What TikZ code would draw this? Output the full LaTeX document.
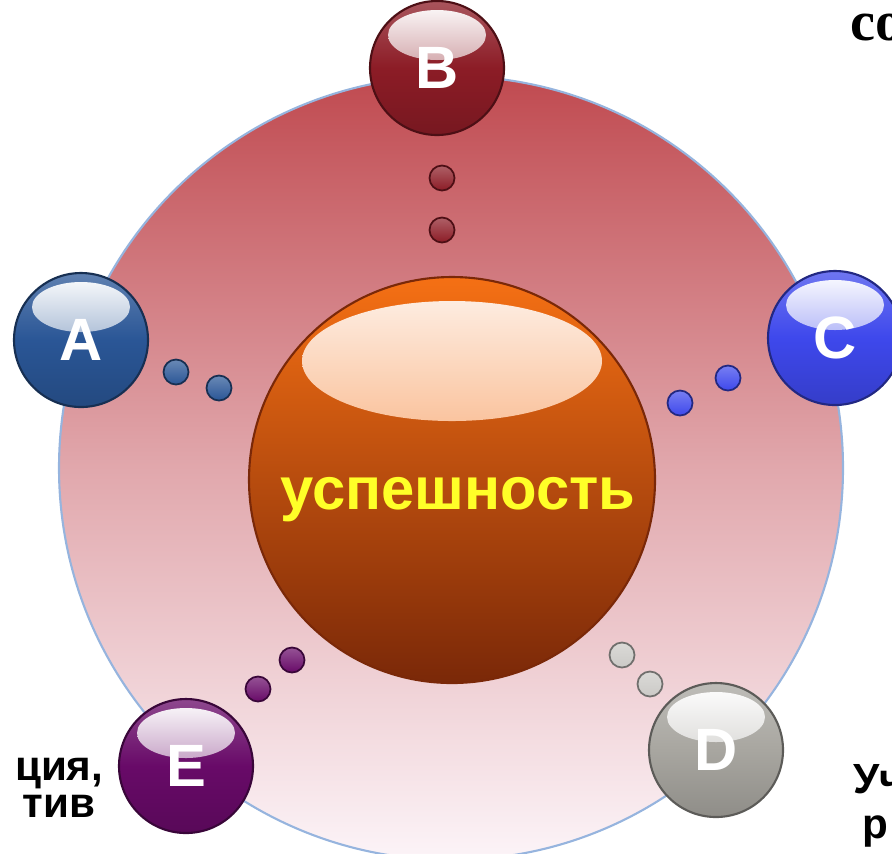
\documentclass[tikz,border=0pt]{standalone}
\usepackage{fontspec}
\setmainfont{Liberation Sans}
\newfontfamily\cyrserif{Liberation Serif}
\definecolor{ringtop}{RGB}{192,74,80}
\definecolor{ringbot}{RGB}{252,244,248}
\definecolor{ringline}{RGB}{150,180,222}
\definecolor{coretop}{RGB}{245,112,20}
\definecolor{coremid}{RGB}{214,84,14}
\definecolor{corebot}{RGB}{122,40,8}
\definecolor{ballA}{RGB}{42,86,150}
\definecolor{ballB}{RGB}{140,28,38}
\definecolor{ballC}{RGB}{62,72,236}
\definecolor{ballD}{RGB}{168,166,160}
\definecolor{ballE}{RGB}{104,10,104}
\definecolor{successtext}{RGB}{255,255,40}
\tikzset{
  ball/.style={circle, inner sep=0pt, minimum size=13.4mm, draw=#1!55!black, line width=.6pt,
    top color=#1!75!white, bottom color=#1!85!black, middle color=#1,
    text=white, font=\bfseries\fontsize{17}{17}\selectfont,
    path picture={\shade[top color=white, bottom color=#1!80!white]
      ([yshift=-3.4mm]path picture bounding box.north) ellipse (4.9mm and 2.5mm);}},
  dot/.style={circle, inner sep=0pt, minimum size=2.5mm, draw=#1!55!black, line width=.5pt,
    top color=#1!70!white, bottom color=#1},
  sidetext/.style={inner sep=0pt, font=\bfseries\fontsize{12}{12}\selectfont}
}
\begin{document}
\begin{tikzpicture}[x=0.1mm, y=-0.1mm]
\useasboundingbox (0,0) rectangle (892,853);
\clip (0,0) rectangle (892,853);
% outer ring
\node[circle, inner sep=0pt, minimum size=78.4mm, draw=ringline, line width=.6pt,
  top color=ringtop, bottom color=ringbot, middle color=ringtop!45!ringbot] (ring) at (451,468){};
% centre sphere
\node[circle, inner sep=0pt, minimum size=40.6mm, draw=corebot, line width=.6pt,
  top color=coretop, middle color=coremid, bottom color=corebot,
  path picture={\shade[top color=white!92!coretop, bottom color=coretop!92!coremid]
    ([yshift=-8.4mm]path picture bounding box.north) ellipse (15mm and 6mm);}] (core) at (452,480){};
\node[text=successtext, font=\bfseries\fontsize{17}{17}\selectfont, inner sep=0pt, anchor=base] (success) at (458,509){успешность};
% dots
\node[dot=ballB] (dotB1) at (442,178){};
\node[dot=ballB] (dotB2) at (442,230){};
\node[dot=ballA] (dotA1) at (176,372){};
\node[dot=ballA] (dotA2) at (219,388){};
\node[dot=ballC] (dotC1) at (728,378){};
\node[dot=ballC] (dotC2) at (680,403){};
\node[dot=ballD!60!white] (dotD1) at (622,655){};
\node[dot=ballD!60!white] (dotD2) at (650,684){};
\node[dot=ballE] (dotE1) at (292,660){};
\node[dot=ballE] (dotE2) at (258,689){};
% balls
\node[ball=ballB] (B) at (437,68){B};
\node[ball=ballA] (A) at (81,340){A};
\node[ball=ballC] (C) at (835,338){C};
\node[ball=ballD] (D) at (716,750){D};
\node[ball=ballE] (E) at (186,766){E};
% texts at the edges
\node[sidetext, anchor=base east] (leftA) at (104,780){ция,};
\node[sidetext, anchor=base east] (leftB) at (96,817){тив};
\node[sidetext, anchor=base west] (rightA) at (853,793){Уч};
\node[sidetext, anchor=base west] (rightB) at (862,838){р};
\node[inner sep=0pt, anchor=base west, font=\cyrserif\bfseries\fontsize{16}{16}\selectfont] (topright) at (850,40){со};
\end{tikzpicture}
\end{document}
